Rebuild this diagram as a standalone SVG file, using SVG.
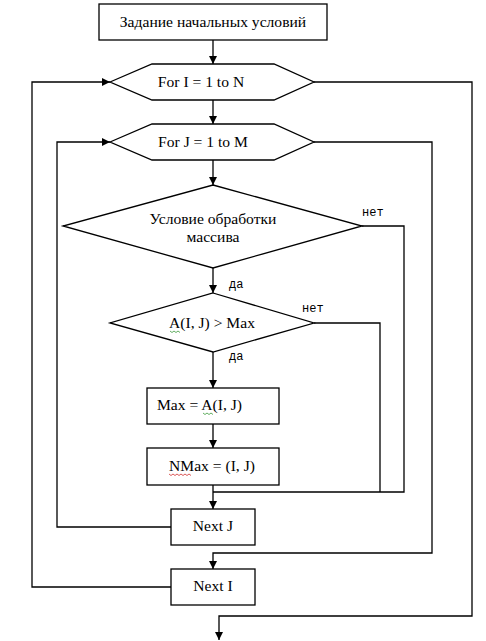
<svg xmlns="http://www.w3.org/2000/svg" width="486" height="641" viewBox="0 0 486 641">
<style>
.n{fill:#fff;stroke:#000;stroke-width:1.3}
.t{font-family:"Liberation Serif","Times New Roman",serif;font-size:15.6px;fill:#000;text-anchor:middle}
.l{font-family:"Liberation Mono","Courier New",monospace;font-size:12px;fill:#000}
.c{fill:none;stroke:#000;stroke-width:1.3}
.sq{fill:none;stroke-width:0.8}
</style>
<defs>
<marker id="ah" markerWidth="8" markerHeight="8" refX="8" refY="4" orient="auto" markerUnits="userSpaceOnUse">
<path d="M0,0 L8,4 L0,8 z" fill="#000"/>
</marker>
</defs>
<rect width="486" height="641" fill="#fff"/>
<g id="connectors">
<path class="c" d="M213,40 V64" marker-end="url(#ah)"/>
<path class="c" d="M213,100 V124" marker-end="url(#ah)"/>
<path class="c" d="M213,160 V185" marker-end="url(#ah)"/>
<path class="c" d="M213,268 V293" marker-end="url(#ah)"/>
<path class="c" d="M213,352 V388" marker-end="url(#ah)"/>
<path class="c" d="M213,424 V448" marker-end="url(#ah)"/>
<path class="c" d="M213,485 V509" marker-end="url(#ah)"/>
<path class="c" d="M362,226 H404 V492 H213"/>
<path class="c" d="M314,323 H380 V492"/>
<path class="c" d="M171,527 H57 V142 H110" marker-end="url(#ah)"/>
<path class="c" d="M314,142 H432 V553 H213 V569" marker-end="url(#ah)"/>
<path class="c" d="M171,587 H32 V82 H110" marker-end="url(#ah)"/>
<path class="c" d="M314,82 H472 V616 H219 V640" marker-end="url(#ah)"/>
<text class="l" x="362" y="216">нет</text>
<text class="l" x="229" y="288">да</text>
<text class="l" x="302" y="312">нет</text>
<text class="l" x="229" y="360">да</text>
</g>
<g id="start">
<rect class="n" x="99" y="4" width="228" height="36"/>
<text class="t" x="213" y="27">Задание начальных условий</text>
</g>
<g id="forI">
<polygon class="n" points="110,82 152,64 274,64 314,82 274,100 152,100"/>
<text class="t" x="201" y="87">For I = 1 to N</text>
</g>
<g id="forJ">
<polygon class="n" points="110,142 152,124 274,124 314,142 274,160 152,160"/>
<text class="t" x="203" y="147">For J = 1 to M</text>
</g>
<g id="cond">
<polygon class="n" points="213,185 362,226 213,268 63,226"/>
<text class="t" x="213" y="224">Условие обработки</text>
<text class="t" x="213" y="242">массива</text>
</g>
<g id="cmp">
<polygon class="n" points="213,293 314,323 213,352 110,323"/>
<text class="t" x="212" y="328">A(I, J) &gt; Max</text>
<path class="sq" stroke="#3a9a3a" d="M170,331 l2,1.5 l2,-1.5 l2,1.5 l2,-1.5 l2,1.5"/>
</g>
<g id="setMax">
<rect class="n" x="147" y="388" width="132" height="36"/>
<text class="t" x="157" y="410" style="text-anchor:start">Max = A(I, J)</text>
<path class="sq" stroke="#3a9a3a" d="M203,413 l2,1.5 l2,-1.5 l2,1.5 l2,-1.5 l2,1.5"/>
</g>
<g id="setNMax">
<rect class="n" x="147" y="448" width="132" height="37"/>
<text class="t" x="212" y="471">NMax = (I, J)</text>
<path class="sq" stroke="#d03030" d="M169,474 l2,1.5 l2,-1.5 l2,1.5 l2,-1.5 l2,1.5 l2,-1.5 l2,1.5 l2,-1.5 l2,1.5 l2,-1.5 l2,1.5"/>
</g>
<g id="nextJ">
<rect class="n" x="171" y="509" width="84" height="36"/>
<text class="t" x="213" y="531">Next J</text>
</g>
<g id="nextI">
<rect class="n" x="171" y="569" width="84" height="36"/>
<text class="t" x="213" y="591">Next I</text>
</g>
</svg>
